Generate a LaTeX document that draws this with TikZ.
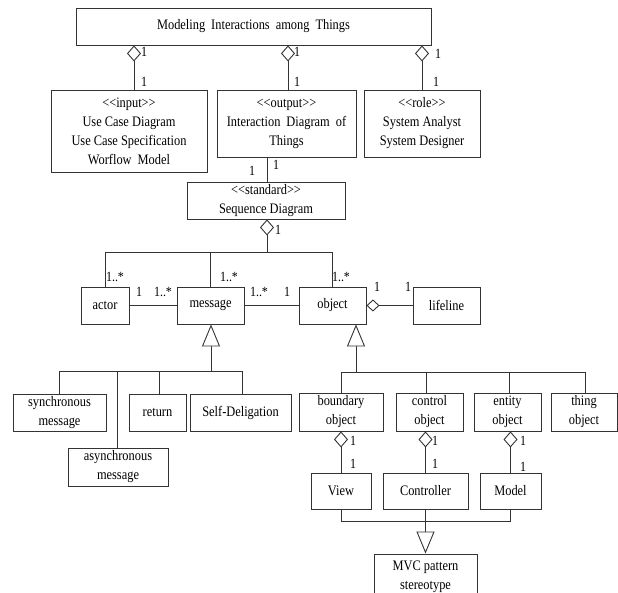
\documentclass[tikz,border=0pt]{standalone}
\usepackage{fontspec}
\setmainfont{Liberation Serif}[FakeStretch=0.855]
\usetikzlibrary{arrows.meta}
\newcommand\wsp{\hspace{6pt}}
\newcommand\stereo[1]{{<}{<}#1{>}{>}}
\begin{document}
\begin{tikzpicture}[x=1pt,y=-1pt,
  box/.style={draw=black!80, line width=0.9pt, fill=white, inner sep=0pt,
    align=center, font=\fontsize{14.5}{19}\selectfont},
  lbl/.style={inner sep=0pt, font=\fontsize{14}{15}\selectfont},
  conn/.style={draw=black!80, line width=0.9pt},
  agg/.style={conn, -{Diamond[open,length=16pt,width=14pt,fill=white]}},
  gen/.style={conn, -{Triangle[open,length=22pt,width=18pt,fill=white]}},
]
\path[use as bounding box, clip] (0,0) rectangle (618,593);

% ---- top level ----
\node[box, minimum width=355pt, minimum height=37pt] (top) at (253.5,26.5)
  {Modeling\wsp Interactions\wsp among\wsp Things};
\node[box, minimum width=156pt, minimum height=82pt] (in) at (129,131)
  {\stereo{input}\\Use Case Diagram\\Use Case Specification\\Worflow\wsp Model};
\node[box, minimum width=139pt, minimum height=67pt] (out) at (286.5,123.5)
  {\stereo{output}\\Interaction\wsp Diagram\wsp of\\Things};
\node[box, minimum width=116pt, minimum height=67pt] (role) at (422,123.5)
  {\stereo{role}\\System Analyst\\System Designer};
\node[box, minimum width=158pt, minimum height=37pt] (std) at (266,200.5)
  {\stereo{standard}\\Sequence Diagram};

\draw[agg] ([xshift=5pt]in.north) -- ([xshift=5pt]in.north |- top.south);
\draw[agg] ([xshift=1.5pt]out.north) -- ([xshift=1.5pt]out.north |- top.south);
\draw[agg] (role.north) -- (role.north |- top.south);
\draw[conn] ([xshift=1pt]std.north) -- ([xshift=1pt]std.north |- out.south);

\node[lbl] (m1) at (144,52) {1};
\node[lbl] (m2) at (144,82) {1};
\node[lbl] (m3) at (297,52) {1};
\node[lbl] (m4) at (297,82) {1};
\node[lbl] (m5) at (438,54) {1};
\node[lbl] (m6) at (436,82) {1};
\node[lbl] (m7) at (252,171) {1};
\node[lbl] (m8) at (276,165) {1};
\node[lbl] (m9) at (278,230) {1};

% ---- sequence diagram elements ----
\node[box, minimum width=48pt, minimum height=37pt] (actor) at (105,305.5) {actor};
\node[box, minimum width=67pt, minimum height=37pt] (msg) at (210.5,305.5) {message};
\node[box, minimum width=67pt, minimum height=37pt] (obj) at (332.5,305.5) {object};
\node[box, minimum width=67pt, minimum height=37pt] (life) at (446.5,305.5) {lifeline};

\coordinate (hub) at (267,252);
\draw[agg] (hub) -- (hub |- std.south);
\draw[conn] (actor.north) |- (obj.north |- hub) -- (obj.north);
\draw[conn] (msg.north) -- (msg.north |- hub);
\draw[conn] (actor.east) -- (msg.west);
\draw[conn] (msg.east) -- (obj.west);
\draw[conn, -{Diamond[open,length=13pt,width=12pt,fill=white]}] (life.west) -- (obj.east);

\node[lbl] (n1) at (115,277) {1..*};
\node[lbl] (n2) at (229,277) {1..*};
\node[lbl] (n3) at (341,277) {1..*};
\node[lbl] (n4) at (139,292) {1};
\node[lbl] (n5) at (163,292) {1..*};
\node[lbl] (n6) at (259,292) {1..*};
\node[lbl] (n7) at (287,292) {1};
\node[lbl] (n8) at (377,287) {1};
\node[lbl] (n9) at (408,287) {1};

% ---- message kinds ----
\node[box, minimum width=93pt, minimum height=37pt] (sync) at (59.5,412.5) {synchronous\\message};
\node[box, minimum width=100pt, minimum height=38pt] (async) at (118,467) {asynchronous\\message};
\node[box, minimum width=57pt, minimum height=37pt] (ret) at (157.5,412.5) {return};
\node[box, minimum width=101pt, minimum height=37pt] (self) at (240.5,412.5) {Self-Deligation};

\coordinate (mh) at (211,371);
\draw[gen] (mh) -- (mh |- msg.south);
\draw[conn] (sync.north) |- ([xshift=1.5pt]self.north |- mh) -- ([xshift=1.5pt]self.north);
\draw[conn] ([xshift=-1pt]async.north) -- ([xshift=-1pt]async.north |- mh);
\draw[conn] ([xshift=1.5pt]ret.north) -- ([xshift=1.5pt]ret.north |- mh);

% ---- object kinds ----
\node[box, minimum width=84pt, minimum height=38pt] (bnd) at (341,412) {boundary\\object};
\node[box, minimum width=67pt, minimum height=38pt] (ctl) at (429.5,412) {control\\object};
\node[box, minimum width=67pt, minimum height=38pt] (ent) at (507.5,412) {entity\\object};
\node[box, minimum width=66pt, minimum height=38pt] (thing) at (584,412) {thing\\object};

\coordinate (oh) at (356,372);
\draw[gen] (oh) -- (oh |- obj.south);
\draw[conn] (bnd.north) |- ([xshift=1pt]thing.north |- oh) -- ([xshift=1pt]thing.north);
\draw[conn] ([xshift=-3.5pt]ctl.north) -- ([xshift=-3.5pt]ctl.north |- oh);
\draw[conn] ([xshift=1.5pt]ent.north) -- ([xshift=1.5pt]ent.north |- oh);

% ---- MVC ----
\node[box, minimum width=60pt, minimum height=36pt] (view) at (341,491) {View};
\node[box, minimum width=85pt, minimum height=36pt] (ctrl) at (425.5,491) {Controller};
\node[box, minimum width=61pt, minimum height=36pt] (model) at (510.5,491) {Model};
\node[box, minimum width=103pt, minimum height=46pt] (mvc) at (425.5,577) {MVC pattern\\stereotype};

\draw[agg] (view.north) -- (view.north |- bnd.south);
\draw[agg] (ctrl.north) -- (ctrl.north |- ctl.south);
\draw[agg] (model.north) -- (model.north |- ent.south);

\coordinate (mv) at (426,521);
\draw[conn] (view.south) |- (model.south |- mv) -- (model.south);
\draw[gen] (ctrl.south) -- (ctrl.south |- mvc.north);

\node[lbl] (k1) at (353,441) {1};
\node[lbl] (k2) at (353,464) {1};
\node[lbl] (k3) at (435,441) {1};
\node[lbl] (k4) at (435,464) {1};
\node[lbl] (k5) at (523,441) {1};
\node[lbl] (k6) at (523,467) {1};
\end{tikzpicture}
\end{document}
